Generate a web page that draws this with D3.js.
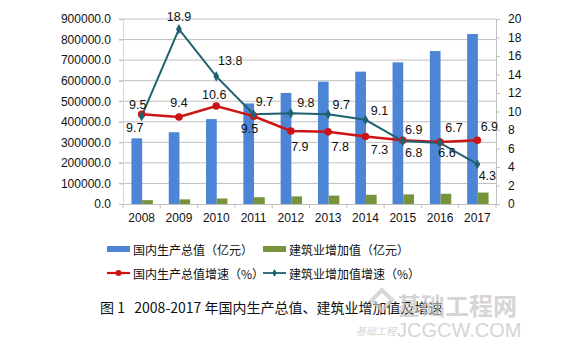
<!DOCTYPE html>
<html>
<head>
<meta charset="utf-8">
<script src="https://cdn.jsdelivr.net/npm/d3@7"></script>
<style>
  body { margin: 0; background: #fff; }
  svg { display: block; }
</style>
</head>
<body>
<script>
// 数据
const years = ["2008", "2009", "2010", "2011", "2012", "2013", "2014", "2015", "2016", "2017"];
const gdp = [319516, 349081, 413030, 489301, 540367, 595244, 643974, 689052, 744127, 827122];
const construction = [18743, 22681, 26714, 32926, 36896, 40897, 44880, 46627, 49703, 55689];
const gdpGrowth = [9.7, 9.4, 10.6, 9.5, 7.9, 7.8, 7.3, 6.9, 6.7, 6.9];
const conGrowth = [9.5, 18.9, 13.8, 9.7, 9.8, 9.7, 9.1, 6.8, 6.6, 4.3];
const leftTicks = [0, 100000, 200000, 300000, 400000, 500000, 600000, 700000, 800000, 900000];
const rightTicks = [0, 2, 4, 6, 8, 10, 12, 14, 16, 18, 20];

// 数据标签偏移 (dx, dy)
const gdpLabelOffsets = [[-7, 14], [0, -14], [-2, -11], [-4, 13], [9, 16], [12, 15], [14, 14], [11, -10], [14, -14], [12, -13]];
const conLabelOffsets = [[-4, -11], [0, -12], [14, -15], [11, -12], [15, -10], [13, -9], [14, -9], [11, 12], [7, 10], [10, 12]];

const colors = {
    gdpBar: '#4d85d6',
    conBar: '#77933c',
    gdpLine: '#cc1414',
    conLine: '#1f616e',
    grid: '#c0c0c0',
    text: '#111'
};

const width = 586, height = 353;
const plot = { left: 123, right: 496, top: 19, bottom: 204 };

const svg = d3.select("body").append("svg")
    .attr("width", width)
    .attr("height", height);

const x = d3.scaleBand().domain(years).range([plot.left, plot.right]);
const xBar = d3.scaleBand().domain(["gdp", "con"]).range([0, 21.4]);
const y = d3.scaleLinear().domain([0, 900000]).range([plot.bottom, plot.top]);
const y2 = d3.scaleLinear().domain([0, 20]).range([plot.bottom, plot.top]);
const cx = d => x(d) + x.bandwidth() / 2;

// 网格线
svg.append("g")
    .selectAll("line")
    .data(leftTicks.filter(t => t > 0))
    .enter().append("line")
    .attr("x1", plot.left - 4)
    .attr("x2", plot.right)
    .attr("y1", d => y(d))
    .attr("y2", d => y(d))
    .attr("stroke", colors.grid)
    .attr("stroke-width", 1);

// 左轴
const leftAxis = svg.append("g")
    .attr("transform", `translate(${plot.left},0)`)
    .call(d3.axisLeft(y).tickValues(leftTicks).tickFormat(d3.format(".1f")).tickSize(4).tickPadding(8));
leftAxis.select(".domain").attr("stroke", "#d9d9d9");
leftAxis.selectAll(".tick line").attr("stroke", colors.grid);
leftAxis.selectAll("text")
    .style("font", "12px 'Liberation Sans', Arial, sans-serif")
    .attr("fill", colors.text);

// 右轴
const rightAxis = svg.append("g")
    .attr("transform", `translate(${plot.right},0)`)
    .call(d3.axisRight(y2).tickValues(rightTicks).tickSize(4).tickPadding(8));
rightAxis.select(".domain").attr("stroke", colors.grid);
rightAxis.selectAll(".tick line").attr("stroke", colors.grid);
rightAxis.selectAll("text")
    .style("font", "12px 'Liberation Sans', Arial, sans-serif")
    .attr("fill", colors.text);

// 柱子
const barW = xBar.bandwidth();
svg.append("g")
    .selectAll("rect")
    .data(years)
    .enter().append("rect")
    .attr("x", (d, i) => cx(d) - barW + 0.5 + xBar("gdp"))
    .attr("y", (d, i) => y(gdp[i]))
    .attr("width", barW)
    .attr("height", (d, i) => plot.bottom - y(gdp[i]))
    .attr("fill", colors.gdpBar);

svg.append("g")
    .selectAll("rect")
    .data(years)
    .enter().append("rect")
    .attr("x", (d, i) => cx(d) - barW + 0.5 + xBar("con"))
    .attr("y", (d, i) => y(construction[i]))
    .attr("width", barW)
    .attr("height", (d, i) => plot.bottom - y(construction[i]))
    .attr("fill", colors.conBar);

// X轴
const bottomAxis = svg.append("g")
    .attr("transform", `translate(0,${plot.bottom})`)
    .call(d3.axisBottom(x).tickSize(0).tickPadding(9));
bottomAxis.select(".domain").attr("stroke", colors.grid);
bottomAxis.selectAll("text")
    .style("font", "12px 'Liberation Sans', Arial, sans-serif")
    .attr("fill", colors.text);
svg.append("g")
    .selectAll("line")
    .data(d3.range(years.length + 1))
    .enter().append("line")
    .attr("x1", i => plot.left + i * x.bandwidth())
    .attr("x2", i => plot.left + i * x.bandwidth())
    .attr("y1", plot.bottom)
    .attr("y2", plot.bottom + 4)
    .attr("stroke", colors.grid);

// 折线
const line = d3.line().x(d => cx(d.year)).y(d => y2(d.v));
const gdpPts = years.map((yr, i) => ({ year: yr, v: gdpGrowth[i], off: gdpLabelOffsets[i] }));
const conPts = years.map((yr, i) => ({ year: yr, v: conGrowth[i], off: conLabelOffsets[i] }));

svg.append("path")
    .datum(gdpPts)
    .attr("d", line)
    .attr("fill", "none")
    .attr("stroke", colors.gdpLine)
    .attr("stroke-width", 2.5);

svg.append("path")
    .datum(conPts)
    .attr("d", line)
    .attr("fill", "none")
    .attr("stroke", colors.conLine)
    .attr("stroke-width", 2);

svg.append("g")
    .selectAll("circle")
    .data(gdpPts)
    .enter().append("circle")
    .attr("cx", d => cx(d.year))
    .attr("cy", d => y2(d.v))
    .attr("r", 3.8)
    .attr("fill", colors.gdpLine);

svg.append("g")
    .selectAll("path")
    .data(conPts)
    .enter().append("path")
    .attr("d", d3.symbol(d3.symbolDiamond, 30))
    .attr("transform", d => `translate(${cx(d.year)},${y2(d.v)})`)
    .attr("fill", colors.conLine);

// 数据标签
function addLabels(pts) {
    svg.append("g")
        .selectAll("text")
        .data(pts)
        .enter().append("text")
        .attr("x", d => cx(d.year) + d.off[0])
        .attr("y", d => y2(d.v) + d.off[1])
        .attr("text-anchor", "middle")
        .attr("dominant-baseline", "central")
        .style("font", "12.5px 'Liberation Sans', Arial, sans-serif")
        .attr("fill", colors.text)
        .text(d => d.v.toFixed(1));
}
addLabels(gdpPts);
addLabels(conPts);

// 图例
const legendFont = "12px 'Noto Sans CJK SC', sans-serif";
const legend = svg.append("g");
const legendItems = [
    { label: "国内生产总值（亿元）", type: "bar", color: colors.gdpBar, x: 107, y: 249 },
    { label: "建筑业增加值（亿元）", type: "bar", color: colors.conBar, x: 263, y: 249 },
    { label: "国内生产总值增速（%）", type: "circle", color: colors.gdpLine, x: 107, y: 273 },
    { label: "建筑业增加值增速（%）", type: "diamond", color: colors.conLine, x: 263, y: 273 }
];
legendItems.forEach(item => {
    const g = legend.append("g").attr("transform", `translate(${item.x},${item.y})`);
    if (item.type === "bar") {
        g.append("rect").attr("x", 0).attr("y", -3).attr("width", 23).attr("height", 6).attr("fill", item.color);
    } else {
        g.append("line").attr("x1", 0).attr("x2", 23).attr("y1", 0).attr("y2", 0)
            .attr("stroke", item.color).attr("stroke-width", item.type === "circle" ? 2.2 : 1.8);
        if (item.type === "circle") {
            g.append("circle").attr("cx", 11.5).attr("cy", 0).attr("r", 3).attr("fill", item.color);
        } else {
            g.append("path").attr("d", d3.symbol(d3.symbolDiamond, 18)).attr("transform", "translate(11.5,0)").attr("fill", item.color);
        }
    }
    g.append("text")
        .attr("x", 26)
        .attr("y", 0)
        .attr("dominant-baseline", "central")
        .style("font", legendFont)
        .attr("fill", colors.text)
        .text(item.label);
});

// 标题
svg.append("text")
    .attr("x", 100)
    .attr("y", 307)
    .attr("dominant-baseline", "central")
    .style("font", "14px 'Noto Sans CJK SC', sans-serif")
    .style("white-space", "pre")
    .attr("fill", colors.text)
    .text("图 1   2008-2017 年国内生产总值、建筑业增加值及增速");

// 水印
const wm = svg.append("g").attr("opacity", 0.7);
wm.append("path")
    .attr("d", "M372,300 l10,-10 l10,10 l-10,10 z")
    .attr("fill", "none")
    .attr("stroke", "#c8c8c8")
    .attr("stroke-width", 4);
wm.append("text")
    .attr("x", 397).attr("y", 304)
    .attr("dominant-baseline", "central")
    .style("font", "bold 24px 'Noto Sans CJK SC', sans-serif")
    .attr("fill", "#c4c4c4")
    .text("基础工程网");
wm.append("text")
    .attr("x", 356).attr("y", 330)
    .attr("dominant-baseline", "central")
    .style("font", "italic 10px 'Noto Sans CJK SC', sans-serif")
    .attr("fill", "#c4c4c4")
    .text("基础工程");
wm.append("text")
    .attr("x", 397).attr("y", 330)
    .attr("dominant-baseline", "central")
    .style("font", "20px 'Liberation Sans', Arial, sans-serif")
    .attr("fill", "#c4c4c4")
    .text("JCGCW.COM");
</script>
</body>
</html>
